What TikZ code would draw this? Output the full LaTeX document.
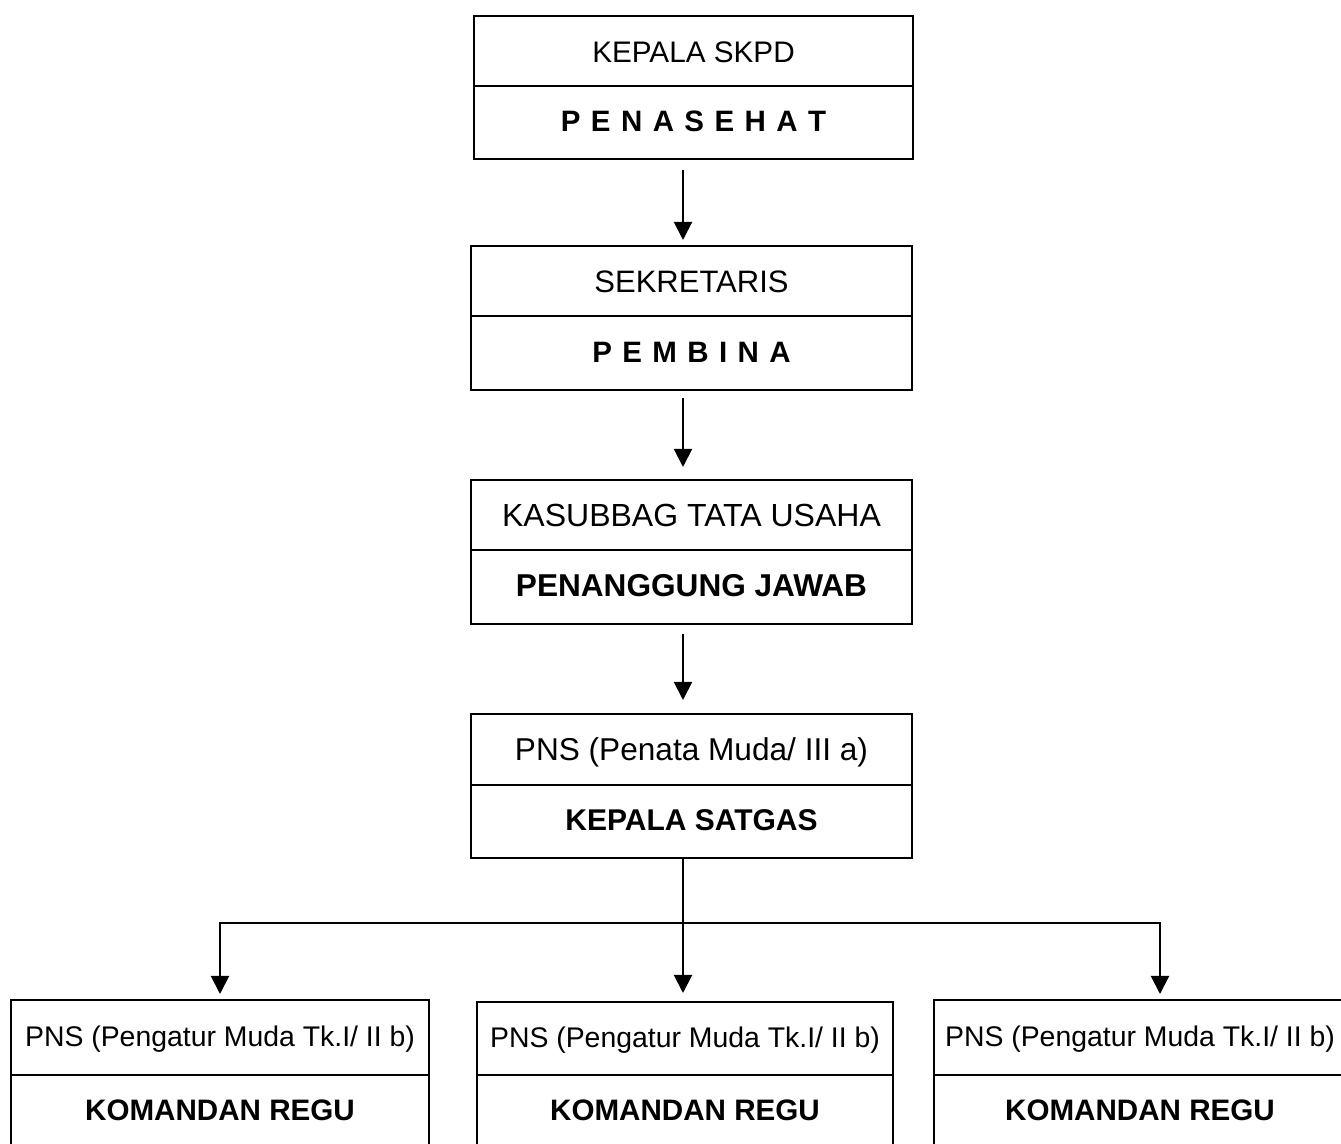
\documentclass[tikz,border=0pt]{standalone}
\usepackage{fontspec}
\setmainfont{Liberation Sans}
\usetikzlibrary{arrows.meta,calc}
\newcommand\lsp{\hspace{5.2pt}}
\begin{document}
\begin{tikzpicture}[x=0.5pt,y=-0.5pt,
  row/.style={draw, line width=1pt, inner sep=0pt, anchor=north west, text depth=0pt},
  uprow/.style={row, text height=0.716em+4pt},
  lorow/.style={row, text height=0.716em+2pt},
  arr/.style={line width=1pt, -{Triangle[width=9pt,length=9pt]}},
  conn/.style={line width=1pt}]
\useasboundingbox (0,0) rectangle (1341,1144);
\clip (0,0) rectangle (1341,1144);
% box 1
\node[uprow, minimum width=219.5pt, minimum height=35pt, font=\fontsize{14.85}{18}\selectfont] (t1) at (473,15) {KEPALA SKPD};
\node[lorow, minimum width=219.5pt, minimum height=36.5pt, font=\bfseries\fontsize{14.75}{18}\selectfont] (b1) at (473,85) {P\lsp E\lsp N\lsp A\lsp S\lsp E\lsp H\lsp A\lsp T};
% box 2
\node[uprow, minimum width=220.5pt, minimum height=35pt, font=\fontsize{15.5}{18}\selectfont] (t2) at (470,245) {SEKRETARIS};
\node[lorow, minimum width=220.5pt, minimum height=37pt, font=\bfseries\fontsize{14.75}{18}\selectfont] (b2) at (470,315) {P\lsp E\lsp M\lsp B\lsp I\lsp N\lsp A};
% box 3
\node[uprow, minimum width=220.5pt, minimum height=35pt, font=\fontsize{16}{18}\selectfont] (t3) at (470,479) {KASUBBAG TATA USAHA};
\node[lorow, minimum width=220.5pt, minimum height=37pt, font=\bfseries\fontsize{15.8}{18}\selectfont] (b3) at (470,549) {PENANGGUNG JAWAB};
% box 4
\node[uprow, minimum width=220.5pt, minimum height=35.5pt, font=\fontsize{15.8}{18}\selectfont] (t4) at (470,713) {PNS (Penata Muda/ III a)};
\node[lorow, minimum width=220.5pt, minimum height=36.5pt, font=\bfseries\fontsize{15}{18}\selectfont] (b4) at (470,784) {KEPALA SATGAS};
% bottom boxes
\node[lorow, minimum width=209pt, minimum height=37.5pt, font=\fontsize{14.2}{18}\selectfont] (tl) at (10,999) {PNS (Pengatur Muda Tk.I/ II b)};
\node[row, minimum width=209pt, minimum height=38pt, font=\bfseries\fontsize{14.8}{18}\selectfont, text height=0.716em] (bl) at (10,1074) {KOMANDAN REGU};
\node[lorow, minimum width=208pt, minimum height=36.5pt, font=\fontsize{14.2}{18}\selectfont] (tm) at (476,1001) {PNS (Pengatur Muda Tk.I/ II b)};
\node[row, minimum width=208pt, minimum height=38pt, font=\bfseries\fontsize{14.8}{18}\selectfont, text height=0.716em] (bm) at (476,1074) {KOMANDAN REGU};
\node[lorow, minimum width=206pt, minimum height=37.5pt, font=\fontsize{14.2}{18}\selectfont] (tr) at (933,999) {PNS (Pengatur Muda Tk.I/ II b)};
\node[row, minimum width=206pt, minimum height=38pt, font=\bfseries\fontsize{14.8}{18}\selectfont, text height=0.716em] (br) at (933,1074) {KOMANDAN REGU};
% connectors
\coordinate (ax) at (683,0);
\coordinate (jl) at (220,923);
\coordinate (jr) at (1160,923);
\draw[arr, shorten <=5pt, shorten >=2.5pt] (b1.south -| ax) -- (t2.north -| ax);
\draw[arr, shorten <=3.5pt, shorten >=6pt] (b2.south -| ax) -- (t3.north -| ax);
\draw[arr, shorten <=4.5pt, shorten >=6.5pt] (b3.south -| ax) -- (t4.north -| ax);
\draw[arr, shorten >=4pt] (b4.south -| ax) -- (tm.north -| ax);
\draw[arr, shorten >=2.5pt] (jr) -- (jl) -- (jl |- tl.north);
\draw[arr, shorten >=2.5pt] (jl) -- (jr) -- (jr |- tr.north);
\end{tikzpicture}
\end{document}
